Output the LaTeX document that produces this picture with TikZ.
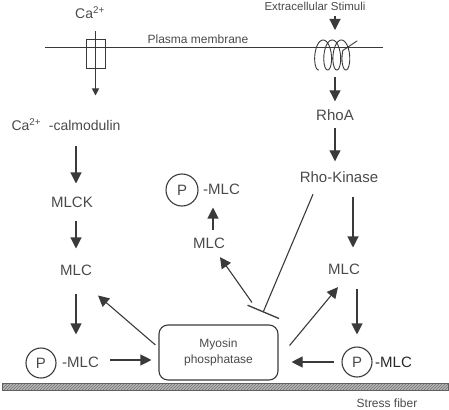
\documentclass[tikz,border=0pt]{standalone}
\usepackage{fontspec}
\setmainfont{Liberation Sans}
\usetikzlibrary{arrows.meta,patterns,calc}
\definecolor{ink}{HTML}{3A3A3A}
\definecolor{txt}{HTML}{4A4A4A}
\begin{document}
\begin{tikzpicture}[x=1pt,y=-1pt,
  lbl/.style={inner sep=0pt,text=txt,font=\fontsize{15}{18}\selectfont},
  small/.style={inner sep=0pt,text=txt,font=\fontsize{12}{14}\selectfont},
  pcirc/.style={circle,draw=ink,line width=1.1pt,inner sep=0pt,minimum size=30pt,text=txt,font=\fontsize{15}{18}\selectfont},
  arr/.style={draw=ink,line width=1.1pt,-{Triangle[length=11pt,width=11pt]}},
  inh/.style={draw=ink,line width=1.1pt,-{Bar[width=34pt,line width=1.3pt]}},
  line/.style={draw=ink,line width=1pt}]
\useasboundingbox (0,0) rectangle (449,409);

% membrane
\coordinate (mL) at (45,48);
\coordinate (mR) at (383,48);
\draw[line] (mL) -- (mR);
\node[small] (pm) at (198,39) {Plasma membrane};

% Ca channel
\node[lbl,font=\fontsize{14}{16}\selectfont] (ca) at (90,13) {Ca\textsuperscript{2+}};
\node[draw=ink,line width=1pt,inner sep=0pt,minimum width=19pt,minimum height=29pt] (chan) at (95.5,54.5) {};
\draw[draw=ink,line width=1pt,-{Triangle[length=7pt,width=7pt]}] ([yshift=8pt]chan.north) -- ([yshift=-26pt]chan.south);

% left column
\node[lbl,font=\fontsize{14}{16}\selectfont] (camod) at (66,125) {Ca\textsuperscript{2+}\ \ -calmodulin};
\node[lbl] (mlck) at (72,202) {MLCK};
\node[lbl] (mlcL) at (76,270) {MLC};
\node[pcirc] (pL) at (41,363) {P};
\node[lbl,anchor=west] (pmlcL) at (62,362) {-MLC};

\draw[arr,shorten <=15pt,shorten >=13pt] (camod.south -| mlcL.north) -- (mlck.north -| mlcL.north);
\draw[arr,shorten <=13pt,shorten >=16pt] (mlck.south -| mlcL.north) -- (mlcL.north);
\draw[arr,shorten <=18pt,shorten >=13pt] (mlcL.south) -- (mlcL.south |- pL.north);

% myosin phosphatase
\node[draw=ink,line width=1.1pt,rounded corners=9pt,minimum width=119pt,minimum height=55pt,inner sep=0pt,
      align=center,text=txt,font=\fontsize{12}{16}\selectfont] (box) at (218.5,352.5) {Myosin\\phosphatase};

\draw[arr,shorten <=11pt,shorten >=7pt] ([yshift=2pt]pmlcL.east) -- ([yshift=2pt]pmlcL.east -| box.west);
\draw[arr] ([shift={(-3pt,7.5pt)}]box.west) -- ([shift={(22pt,-20pt)}]mlcL.south);

% middle column
\node[lbl] (mlcU) at (209,243) {MLC};
\node[pcirc,minimum size=32pt] (pU) at (182,190) {P};
\node[lbl,anchor=west] (pmlcU) at (203,189) {-MLC};
\draw[arr,shorten <=7pt,shorten >=13pt] ([xshift=4pt]mlcU.north) -- ([xshift=4pt]mlcU.north |- pmlcU.south);
\draw[arr] ([shift={(33.5pt,22pt)}]box.north) -- ([shift={(11pt,-8.6pt)}]mlcU.south);

% right column
\node[small,font=\fontsize{11.5}{14}\selectfont] (stim) at (315,6) {Extracellular Stimuli};
\coordinate (rec) at (335,55);
\draw[draw=ink,line width=0.9pt,line cap=round]
  plot[smooth,domain=pi:7.6*pi,samples=140,variable=\t] ({314+1.45*\t+6*sin(\t r)},{55-15*cos(\t r)})
  -- (357,41);
\draw[arr,shorten <=6pt,shorten >=25pt] (stim.south -| rec) -- (rec);
\node[lbl] (rhoa) at (335,115) {RhoA};
\draw[arr,shorten <=22pt,shorten >=8pt] (rec) -- (rhoa.north);
\node[lbl] (rock) at (339,177) {Rho-Kinase};
\draw[arr,shorten <=7pt,shorten >=10pt] (rhoa.south) -- (rhoa.south |- rock.north);
\node[lbl] (mlcR) at (344,269) {MLC};
\draw[arr,shorten <=14pt,shorten >=16pt] ([xshift=14pt]rock.south) -- ([xshift=9pt]mlcR.north);
\node[pcirc] (pR) at (357,362) {P};
\node[lbl,anchor=west,text=ink!70!black] (pmlcR) at (375,362) {-MLC};
\draw[arr,shorten <=14pt,shorten >=12pt] (mlcR.south -| pR.north) -- (pR.north);
\draw[arr,shorten <=7pt,shorten >=13pt] (pR.west) -- (pR.west -| box.east);
\draw[arr] ([shift={(11pt,7pt)}]box.east) -- ([shift={(-6pt,-12.6pt)}]mlcR.south);

% inhibition
\draw[inh] ([shift={(-26pt,-11.5pt)}]rock.south) -- ([shift={(44.5pt,12pt)}]box.north);

% stress fiber
\node[draw=ink!80,line width=0.8pt,minimum width=446pt,minimum height=7pt,inner sep=0pt,
      preaction={fill=gray!55},pattern=north east lines,pattern color=gray!85!black] (fiber) at (225,386.5) {};
\node[small] (sf) at (387,403) {Stress fiber};
\end{tikzpicture}
\end{document}
